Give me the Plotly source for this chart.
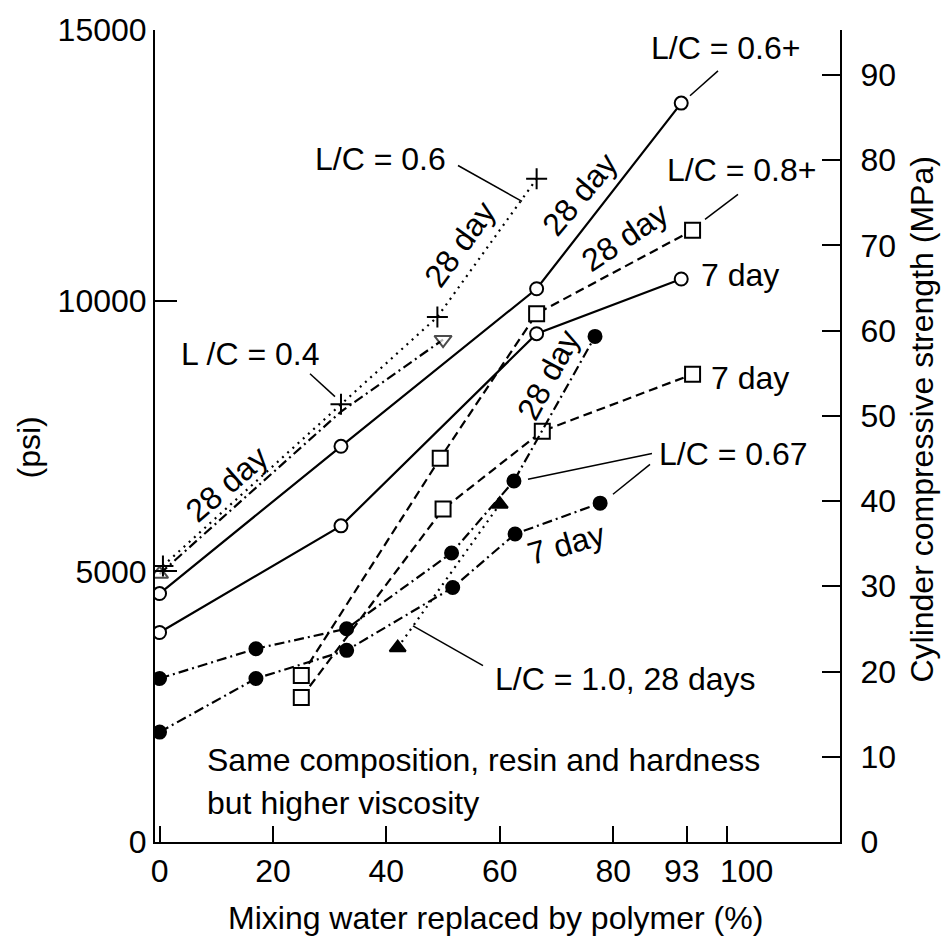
import plotly.graph_objects as go

# ---------------- data ----------------
x_ticks = [0, 20, 40, 60, 80, 93, 100]
x_ticktext = ["0", "20", "40", "60", "80", "93", "100"]
y_ticks = [0, 5000, 10000, 15000]
y2_ticks = [0, 10, 20, 30, 40, 50, 60, 70, 80, 90]

# L/C = 0.6+ (solid, open circles)
lc06p_x = [0, 32, 66.5, 92]
lc06p_28 = [4590, 7310, 10220, 13650]
lc06p_7 = [3870, 5840, 9390, 10400]

# L/C = 0.8+ (dashed, open squares)
lc08p_28_x = [25, 49.5, 66.5, 94]
lc08p_28 = [3075, 7090, 9760, 11300]
lc08p_7_x = [25, 50, 67.5, 94]
lc08p_7 = [2670, 6150, 7590, 8640]

# L/C = 0.67 (dash-dot, filled circles)
lc067_28_x = [0, 17, 33, 51.5, 62.5, 76.8]
lc067_28 = [3020, 3570, 3940, 5340, 6670, 9340]
lc067_7_x = [0, 17, 33, 51.7, 62.7, 77.7]
lc067_7 = [2030, 3020, 3540, 4700, 5690, 6260]

# L/C = 0.4, 28 day (dash-dot, open triangles)
lc04_x = [0, 32, 50]
lc04_28 = [4950, 7950, 9280]

# L/C = 0.6, 28 day (dotted, + marks)
lc06_x = [0.6, 32, 49, 66.5]
lc06_28 = [5100, 8085, 9700, 12250]

# L/C = 1.0, 28 days (dotted, filled triangles)
lc10_x = [42, 60]
lc10_28 = [3590, 6240]

# ---------------- layout geometry ----------------
W, H = 949, 941
L, R, T, B = 155, 840, 27, 842
FONT = "Liberation Sans, Arial, Helvetica, sans-serif"
FS = 32

def fx(p):
    return (p - L) / (R - L)

def fy(p):
    return (B - p) / (B - T)

fig = go.Figure()

DASH = "9px,5px"
DASHDOT = "10px,4px,2px,4px"
DOT = "2px,5px"


def add(x, y, dash, symbol, size, fill="white", lw=2.2, msize=None, mline=2):
    fig.add_trace(go.Scatter(
        x=x, y=y, mode="lines+markers",
        line=dict(color="black", width=lw, dash=dash),
        marker=dict(symbol=symbol, size=size if msize is None else msize,
                    color=fill, line=dict(color="black", width=mline)),
        showlegend=False, hoverinfo="skip"))

add(lc06p_x, lc06p_28, "solid", "circle", 13)
add(lc06p_x, lc06p_7, "solid", "circle", 13)
add(lc08p_28_x, lc08p_28, DASH, "square", 15)
add(lc08p_7_x, lc08p_7, DASH, "square", 15)
add(lc067_28_x, lc067_28, DASHDOT, "circle", 13, fill="black")
add(lc067_7_x, lc067_7, DASHDOT, "circle", 13, fill="black")
add(lc04_x, lc04_28, DASHDOT, ["triangle-up", "circle", "triangle-down"], 14,
    msize=[15, 0, 15])
add(lc06_x, lc06_28, DOT, "cross-thin", 15, mline=2)
add(lc10_x, lc10_28, DOT, "triangle-up", 14, fill="black")

# secondary (MPa) axis carrier
fig.add_trace(go.Scatter(x=[None], y=[None], yaxis="y2", showlegend=False))

ann = []

def text(t, px, py, rot=0, anchor="center"):
    ann.append(dict(text=t, x=fx(px), y=fy(py), xref="paper", yref="paper",
                    showarrow=False, textangle=rot, xanchor=anchor,
                    yanchor="middle", font=dict(family=FONT, size=FS, color="black")))

text("L/C = 0.6+", 725, 45)
text("L/C = 0.8+", 741, 168)
text("7 day", 740, 273)
text("L/C = 0.6", 380, 156)
text("28 day", 460, 242, -54)
text("28 day", 580, 192, -50)
text("28 day", 625, 235, -34)
text("28 day", 227, 483, -41)
text("28 day", 548, 373, -62)
text("7 day", 750, 376)
text("L/C = 0.67", 733, 453)
text("7 day", 566, 543, -16)
text("L/C = 1.0, 28 days", 625, 678)
text("L /C = 0.4", 250, 352)
text("Same composition, resin and hardness", 205, 760, anchor="left")
text("but higher viscosity", 205, 803, anchor="left")
text("(psi)", 29, 446, -90)
text("Cylinder compressive strength (MPa)", 922, 418, -90)
text("Mixing water replaced by polymer (%)", 495, 918)

# tick labels for the crowded 93 / 100 ticks, nudged apart as in the original
for v, lab, shift in zip(x_ticks[5:], x_ticktext[5:], [-5, 20]):
    ann.append(dict(text=lab, x=v, xref="x", y=fy(871), yref="paper",
                    xshift=shift, showarrow=False, xanchor="center", yanchor="middle",
                    font=dict(family=FONT, size=FS, color="black")))

leaders = [
    (718, 68, 690, 93),
    (738, 192, 705, 217),
    (458, 163, 522, 199),
    (310, 372, 335, 395),
    (652, 452, 528, 478),
    (650, 463, 613, 493),
    (483, 665, 413, 625),
]
shapes = [dict(type="line", xref="paper", yref="paper", x0=fx(a), y0=fy(b),
               x1=fx(c), y1=fy(d), line=dict(color="black", width=1.5))
          for a, b, c, d in leaders]

fig.update_layout(
    width=W, height=H,
    margin=dict(l=L, r=W - R, t=T, b=H - B),
    paper_bgcolor="white", plot_bgcolor="white",
    font=dict(family=FONT, size=FS, color="black"),
    annotations=ann, shapes=shapes,
    xaxis=dict(range=[-0.8, 120], tickvals=x_ticks,
               ticktext=x_ticktext[:5] + ["", ""],
               tickangle=0,
               ticks="inside", ticklen=16, tickwidth=2, tickcolor="black",
               showline=True, linecolor="black", linewidth=2, showgrid=False,
               zeroline=False, tickfont=dict(size=FS)),
    yaxis=dict(range=[0, 15000], tickvals=y_ticks,
               ticktext=[str(v) for v in y_ticks],
               ticks="inside", ticklen=22, tickwidth=2, tickcolor="black",
               showline=True, linecolor="black", linewidth=2, showgrid=False,
               zeroline=False, tickfont=dict(size=FS)),
    yaxis2=dict(range=[0, 95.26], overlaying="y", side="right", tickvals=y2_ticks,
                ticks="inside", ticklen=18, tickwidth=2, tickcolor="black",
                ticklabelposition="outside", ticklabelstandoff=12,
                showline=True, linecolor="black", linewidth=2, showgrid=False,
                zeroline=False, tickfont=dict(size=FS)),
)

fig.write_html("out.html")
